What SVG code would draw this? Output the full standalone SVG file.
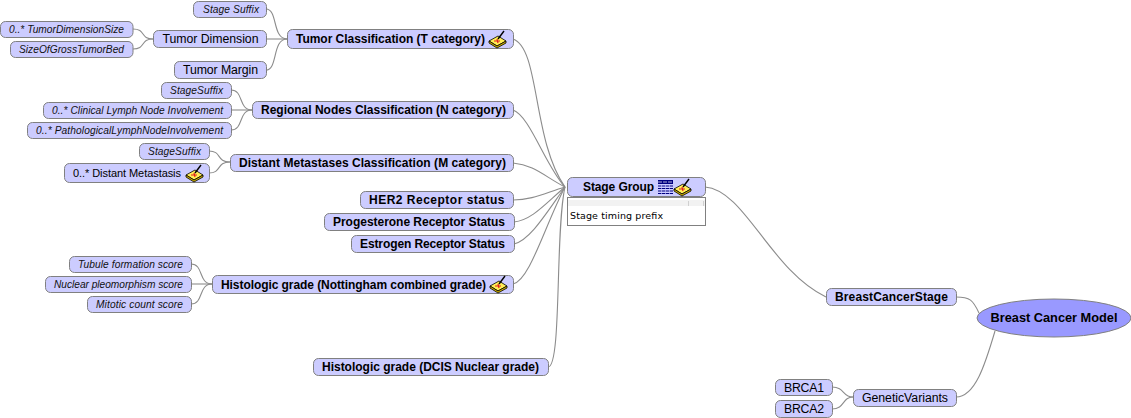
<svg xmlns="http://www.w3.org/2000/svg" width="1131" height="418" viewBox="0 0 1131 418">
<style>
.n{fill:#ccccff;stroke:#808080;stroke-width:1}
.c path{fill:none;stroke:#8c8c8c;stroke-width:1.1}
text{font-family:"Liberation Sans",Arial,sans-serif;fill:#000}
.i{font-size:10.200px;font-style:italic;fill:#111}
.r{font-size:12.300px}
.b{font-size:12px;font-weight:bold}
.s{font-size:11px}
</style>
<defs>
<g id="brush">
<path d="M0 10 L9 5 L17 10 L8 15 Z" fill="#ffee55" stroke="#000" stroke-width="0.8"/>
<path d="M0 10 L0 12 L8 17 L17 12 L17 10 L8 15 Z" fill="#d4b400" stroke="#000" stroke-width="0.8"/>
<path d="M5 10 L11 10 M8 8 L9 12" stroke="#e02020" stroke-width="1.2" fill="none"/>
<path d="M9 8 L15 0" stroke="#000" stroke-width="1.4" fill="none"/>
</g>
<g id="table">
<rect x="0" y="0" width="15" height="4" fill="#000080"/>
<path d="M0 2H15" stroke="#fff" stroke-width="0.7" stroke-dasharray="4 1"/>
<path d="M0 6H15M0 8.500H15M0 11H15M0 13.500H15" stroke="#000080" stroke-width="1.200" stroke-dasharray="3.400 0.600" fill="none"/>
</g>
</defs>
<g id="connectors" class="c">
<path d="M266 9 C278 9 272 39 287 39"/>
<path d="M266 39 H287"/>
<path d="M266 70 C278 70 272 39 287 39"/>
<path d="M133 29 C146 29 140 39 153 39"/>
<path d="M133 49 C146 49 140 39 153 39"/>
<path d="M231 90 C244 90 238 110 252 110"/>
<path d="M231 110 H252"/>
<path d="M231 130 C244 130 238 110 252 110"/>
<path d="M209 151 C222 151 216 162 230 162"/>
<path d="M209 173 C222 173 216 162 230 162"/>
<path d="M191 264 C204 264 198 284 212 284"/>
<path d="M191 284 H212"/>
<path d="M191 304 C204 304 198 284 212 284"/>
<path d="M513 39 C540 48 532 140 565 187"/>
<path d="M513 110 C530 116 545 165 565 187"/>
<path d="M513 163 C535 165 545 177 565 187"/>
<path d="M513 200 C532 200 545 193 565 187"/>
<path d="M514 222 C532 220 545 204 565 187"/>
<path d="M514 244 C530 240 545 215 565 187"/>
<path d="M513 284 C530 280 545 225 565 187"/>
<path d="M548 367 C562 367 555 230 565 187"/>
<path d="M705 187 C745 190 770 270 826 297"/>
<path d="M956 297 C970 297 973 300 979 313"/>
<path d="M956 397 C975 397 985 365 995 331"/>
<path d="M832 387 C845 387 842 397 853 397"/>
<path d="M832 409 C845 409 842 397 853 397"/>
</g>
<g id="n-stage-suffix-t"><rect class="n" x="193.500" y="1.500" width="73" height="16" rx="5"/><text class="i" x="203" y="13" textLength="56">Stage Suffix</text></g>
<g id="n-tumor-dim-size"><rect class="n" x="0.500" y="21.500" width="132.500" height="16" rx="5"/><text class="i" x="9" y="33" textLength="115">0..* TumorDimensionSize</text></g>
<g id="n-gross-bed"><rect class="n" x="10.500" y="41.500" width="122.500" height="16" rx="5"/><text class="i" x="19" y="53" textLength="105">SizeOfGrossTumorBed</text></g>
<g id="n-tumor-dim"><rect class="n" x="153.500" y="30.500" width="113" height="17" rx="5"/><text class="r" x="162.500" y="43" textLength="96">Tumor Dimension</text></g>
<g id="n-tumor-margin"><rect class="n" x="174.500" y="61.500" width="92" height="17" rx="5"/><text class="r" x="183" y="74" textLength="75">Tumor Margin</text></g>
<g id="n-tumor-class"><rect class="n" x="287.500" y="29.500" width="226" height="19" rx="5"/><text class="b" x="296" y="43" textLength="189">Tumor Classification (T category)</text><use href="#brush" x="489" y="31"/></g>
<g id="n-stage-suffix-n"><rect class="n" x="161.500" y="82.500" width="70" height="16" rx="5"/><text class="i" x="170" y="94" textLength="53">StageSuffix</text></g>
<g id="n-clinical"><rect class="n" x="43.500" y="102.500" width="188" height="16" rx="5"/><text class="i" x="52" y="114" textLength="171">0..* Clinical Lymph Node Involvement</text></g>
<g id="n-path"><rect class="n" x="27.500" y="122.500" width="204" height="16" rx="5"/><text class="i" x="36" y="134" textLength="187">0..* PathologicalLymphNodeInvolvement</text></g>
<g id="n-regional"><rect class="n" x="252.500" y="101.500" width="261" height="17" rx="5"/><text class="b" x="261" y="114" textLength="245">Regional Nodes Classification (N category)</text></g>
<g id="n-stage-suffix-m"><rect class="n" x="139.500" y="143.500" width="70" height="16" rx="5"/><text class="i" x="148" y="155" textLength="53">StageSuffix</text></g>
<g id="n-distant-meta"><rect class="n" x="64.500" y="163.500" width="145" height="19" rx="5"/><text class="s" x="73" y="177" textLength="108">0..* Distant Metastasis</text><use href="#brush" x="186" y="165"/></g>
<g id="n-distant"><rect class="n" x="230.500" y="154.500" width="283" height="17" rx="5"/><text class="b" x="239" y="167" textLength="267">Distant Metastases Classification (M category)</text></g>
<g id="n-her2"><rect class="n" x="360.500" y="191.500" width="153" height="17" rx="5"/><text class="b" x="369" y="204" textLength="135.500">HER2 Receptor status</text></g>
<g id="n-prog"><rect class="n" x="324.500" y="213.500" width="190" height="17" rx="5"/><text class="b" x="333" y="226" textLength="172">Progesterone Receptor Status</text></g>
<g id="n-estrogen"><rect class="n" x="351.500" y="235.500" width="163" height="17" rx="5"/><text class="b" x="360" y="248" textLength="145">Estrogen Receptor Status</text></g>
<g id="n-tubule"><rect class="n" x="69.500" y="256.500" width="122" height="16" rx="5"/><text class="i" x="78" y="268" textLength="105">Tubule formation score</text></g>
<g id="n-nuclear"><rect class="n" x="45.500" y="276.500" width="146" height="16" rx="5"/><text class="i" x="54" y="288" textLength="129">Nuclear pleomorphism score</text></g>
<g id="n-mitotic"><rect class="n" x="87.500" y="296.500" width="104" height="16" rx="5"/><text class="i" x="96" y="308" textLength="87">Mitotic count score</text></g>
<g id="n-histologic"><rect class="n" x="212.500" y="275.500" width="301" height="18" rx="5"/><text class="b" x="221" y="288.500" textLength="265">Histologic grade (Nottingham combined grade)</text><use href="#brush" x="490" y="276"/></g>
<g id="n-dcis"><rect class="n" x="313.500" y="358.500" width="235" height="17" rx="5"/><text class="b" x="322" y="371" textLength="217">Histologic grade (DCIS Nuclear grade)</text></g>
<g id="n-stage-group"><rect class="n" x="567.500" y="177.500" width="138" height="19" rx="5"/><text class="b" x="583" y="191" textLength="71">Stage Group</text><use href="#table" x="658" y="180"/><use href="#brush" x="674" y="179"/></g>
<g id="n-stage-table"><rect x="567.500" y="197.500" width="138" height="28" fill="#fff" stroke="#808080"/><rect x="568" y="200" width="137" height="6" fill="#f2f2f2"/><path d="M688.500 201V206M703.500 201V206" stroke="#d0d0d0"/><text x="570" y="219" textLength="93" style="font-family:'DejaVu Sans',sans-serif;font-size:9.500px">Stage timing prefix</text></g>
<g id="n-bcs"><rect class="n" x="826.500" y="288.500" width="130" height="17" rx="5"/><text class="b" x="835" y="301" textLength="113">BreastCancerStage</text></g>
<g id="n-root"><ellipse cx="1054" cy="318" rx="77" ry="19" fill="#9999ff" stroke="#808080"/><text class="b" x="990.500" y="322" textLength="127" style="font-size:12.800px">Breast Cancer Model</text></g>
<g id="n-genetic"><rect class="n" x="853.500" y="389.500" width="103" height="17" rx="5"/><text class="r" x="862" y="402" textLength="86">GeneticVariants</text></g>
<g id="n-brca1"><rect class="n" x="775.500" y="379.500" width="57" height="16" rx="5"/><text class="r" x="784" y="392" textLength="40">BRCA1</text></g>
<g id="n-brca2"><rect class="n" x="775.500" y="400.500" width="57" height="17" rx="5"/><text class="r" x="784" y="413" textLength="40">BRCA2</text></g>
</svg>
